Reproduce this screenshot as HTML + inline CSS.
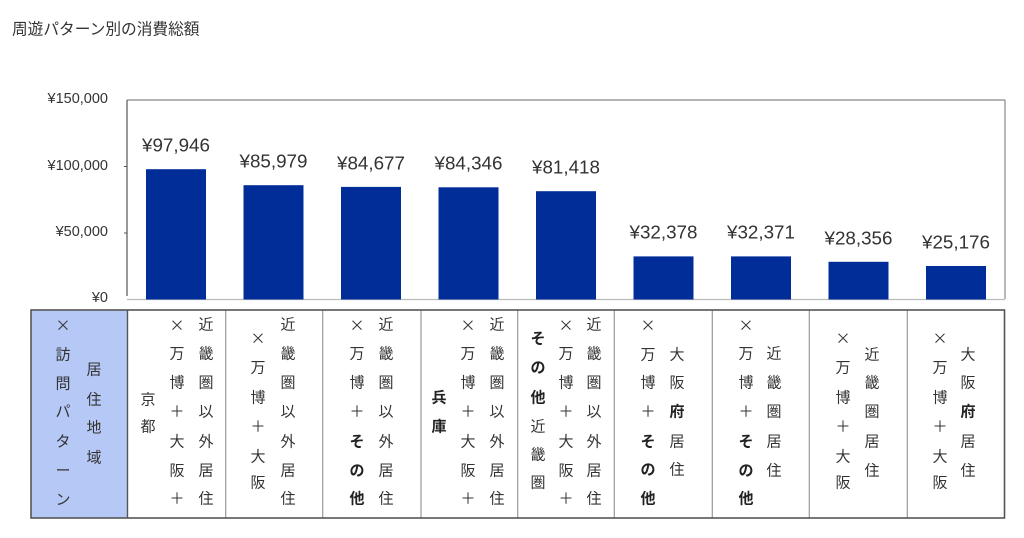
<!DOCTYPE html>
<html><head><meta charset="utf-8"><style>
html,body{margin:0;padding:0;background:#fff;}
svg{display:block;}
text{font-family:"Liberation Sans","Noto Sans CJK JP",sans-serif;fill:#333;}
.t{font-size:15px;}
.b{font-weight:700;fill:#222;}
.x{font-family:"Noto Sans CJK JP",sans-serif;font-size:15px;}
</style></head><body>
<svg width="1024" height="538" viewBox="0 0 1024 538" xmlns="http://www.w3.org/2000/svg">
<text x="12" y="30" font-size="15.7" dominant-baseline="central">周遊パターン別の消費総額</text>

<!-- plot box -->
<line x1="127" y1="100" x2="1005" y2="100" stroke="#888" stroke-width="1.2"/>
<line x1="1005" y1="100" x2="1005" y2="299" stroke="#888" stroke-width="1.2"/>
<line x1="127" y1="100" x2="127" y2="296" stroke="#555" stroke-width="1.2"/>
<line x1="127" y1="299.5" x2="1005" y2="299.5" stroke="#bbb" stroke-width="1.2"/>
<line x1="124" y1="166.5" x2="127" y2="166.5" stroke="#555"/>
<line x1="124" y1="233" x2="127" y2="233" stroke="#555"/>

<g font-size="14.5" text-anchor="end" dominant-baseline="central">
<text x="108" y="99">¥150,000</text>
<text x="108" y="166">¥100,000</text>
<text x="108" y="232">¥50,000</text>
<text x="108" y="298">¥0</text>
</g>

<g>
<rect x="146" y="169.2" width="60" height="130.3" style="fill:#002d98"/>
<rect x="243.5" y="185.2" width="60" height="114.3" style="fill:#002d98"/>
<rect x="341" y="186.9" width="60" height="112.6" style="fill:#002d98"/>
<rect x="438.5" y="187.3" width="60" height="112.2" style="fill:#002d98"/>
<rect x="536" y="191.2" width="60" height="108.3" style="fill:#002d98"/>
<rect x="633.5" y="256.4" width="60" height="43.1" style="fill:#002d98"/>
<rect x="731" y="256.4" width="60" height="43.1" style="fill:#002d98"/>
<rect x="828.5" y="261.8" width="60" height="37.7" style="fill:#002d98"/>
<rect x="926" y="266" width="60" height="33.5" style="fill:#002d98"/>
</g>

<g font-size="18.8" text-anchor="middle" dominant-baseline="central">
<text x="176" y="145">¥97,946</text>
<text x="273.5" y="161">¥85,979</text>
<text x="371" y="163">¥84,677</text>
<text x="468.5" y="163">¥84,346</text>
<text x="566" y="167">¥81,418</text>
<text x="663.5" y="232">¥32,378</text>
<text x="761" y="232">¥32,371</text>
<text x="858.5" y="238">¥28,356</text>
<text x="956" y="242">¥25,176</text>
</g>

<!-- table -->
<rect x="31" y="310" width="96.5" height="208" fill="#b6c8f6"/>
<g stroke="#999" stroke-width="1.2">
<line x1="225.7" y1="310" x2="225.7" y2="518"/>
<line x1="322.7" y1="310" x2="322.7" y2="518"/>
<line x1="421" y1="310" x2="421" y2="518"/>
<line x1="517.7" y1="310" x2="517.7" y2="518"/>
<line x1="614.3" y1="310" x2="614.3" y2="518"/>
<line x1="712.3" y1="310" x2="712.3" y2="518"/>
<line x1="809.3" y1="310" x2="809.3" y2="518"/>
<line x1="907.3" y1="310" x2="907.3" y2="518"/>
</g>
<line x1="127.5" y1="310" x2="127.5" y2="518" stroke="#555" stroke-width="1.4"/>
<rect x="31" y="310" width="973.5" height="208" fill="none" stroke="#555" stroke-width="1.6"/>

<g class="t" text-anchor="middle" dominant-baseline="central">
<!-- header -->
<text class="x" x="63" y="325">×</text><text x="63" y="355">訪</text><text x="63" y="384">問</text><text x="63" y="412">パ</text><text x="63" y="442">タ</text><text x="63" y="471">ー</text><text x="63" y="500">ン</text>
<text x="94" y="370">居</text><text x="94" y="400">住</text><text x="94" y="428">地</text><text x="94" y="458">域</text>

<!-- col1 -->
<text x="148" y="400">京</text><text x="148" y="427">都</text>
<text class="x" x="177" y="325">×</text><text x="177" y="354">万</text><text x="177" y="383">博</text><text x="177" y="412">＋</text><text x="177" y="442">大</text><text x="177" y="471">阪</text><text x="177" y="499">＋</text>
<text x="206" y="325">近</text><text x="206" y="354">畿</text><text x="206" y="383">圏</text><text x="206" y="412">以</text><text x="206" y="442">外</text><text x="206" y="471">居</text><text x="206" y="499">住</text>

<!-- col2 -->
<text class="x" x="258" y="338">×</text><text x="258" y="368">万</text><text x="258" y="398">博</text><text x="258" y="427">＋</text><text x="258" y="457">大</text><text x="258" y="483">阪</text>
<text x="288" y="325">近</text><text x="288" y="354">畿</text><text x="288" y="383">圏</text><text x="288" y="412">以</text><text x="288" y="442">外</text><text x="288" y="471">居</text><text x="288" y="499">住</text>

<!-- col3 -->
<text class="x" x="357" y="325">×</text><text x="357" y="354">万</text><text x="357" y="383">博</text><text x="357" y="412">＋</text><text class="b" x="357" y="442">そ</text><text class="b" x="357" y="471">の</text><text class="b" x="357" y="499">他</text>
<text x="386" y="325">近</text><text x="386" y="354">畿</text><text x="386" y="383">圏</text><text x="386" y="412">以</text><text x="386" y="442">外</text><text x="386" y="471">居</text><text x="386" y="499">住</text>

<!-- col4 -->
<text class="b" x="439" y="398">兵</text><text class="b" x="439" y="427">庫</text>
<text class="x" x="468" y="325">×</text><text x="468" y="354">万</text><text x="468" y="383">博</text><text x="468" y="412">＋</text><text x="468" y="442">大</text><text x="468" y="471">阪</text><text x="468" y="499">＋</text>
<text x="497" y="325">近</text><text x="497" y="354">畿</text><text x="497" y="383">圏</text><text x="497" y="412">以</text><text x="497" y="442">外</text><text x="497" y="471">居</text><text x="497" y="499">住</text>

<!-- col5 -->
<text class="b" x="538" y="339">そ</text><text class="b" x="538" y="368">の</text><text class="b" x="538" y="398">他</text><text x="538" y="427">近</text><text x="538" y="455">畿</text><text x="538" y="483">圏</text>
<text class="x" x="566" y="325">×</text><text x="566" y="354">万</text><text x="566" y="383">博</text><text x="566" y="412">＋</text><text x="566" y="442">大</text><text x="566" y="471">阪</text><text x="566" y="499">＋</text>
<text x="594" y="325">近</text><text x="594" y="354">畿</text><text x="594" y="383">圏</text><text x="594" y="412">以</text><text x="594" y="442">外</text><text x="594" y="471">居</text><text x="594" y="499">住</text>

<!-- col6 -->
<text class="x" x="648" y="325">×</text><text x="648" y="355">万</text><text x="648" y="383">博</text><text x="648" y="412">＋</text><text class="b" x="648" y="442">そ</text><text class="b" x="648" y="470">の</text><text class="b" x="648" y="499">他</text>
<text x="677" y="355">大</text><text x="677" y="383">阪</text><text class="b" x="677" y="412">府</text><text x="677" y="442">居</text><text x="677" y="470">住</text>

<!-- col7 -->
<text class="x" x="746" y="325">×</text><text x="746" y="354">万</text><text x="746" y="383">博</text><text x="746" y="412">＋</text><text class="b" x="746" y="442">そ</text><text class="b" x="746" y="471">の</text><text class="b" x="746" y="499">他</text>
<text x="774" y="354">近</text><text x="774" y="383">畿</text><text x="774" y="412">圏</text><text x="774" y="442">居</text><text x="774" y="471">住</text>

<!-- col8 -->
<text class="x" x="843" y="338">×</text><text x="843" y="368">万</text><text x="843" y="398">博</text><text x="843" y="427">＋</text><text x="843" y="457">大</text><text x="843" y="483">阪</text>
<text x="872" y="355">近</text><text x="872" y="383">畿</text><text x="872" y="412">圏</text><text x="872" y="442">居</text><text x="872" y="471">住</text>

<!-- col9 -->
<text class="x" x="940" y="338">×</text><text x="940" y="368">万</text><text x="940" y="398">博</text><text x="940" y="427">＋</text><text x="940" y="457">大</text><text x="940" y="483">阪</text>
<text x="968" y="355">大</text><text x="968" y="383">阪</text><text class="b" x="968" y="412">府</text><text x="968" y="442">居</text><text x="968" y="471">住</text>
</g>
</svg>
</body></html>
